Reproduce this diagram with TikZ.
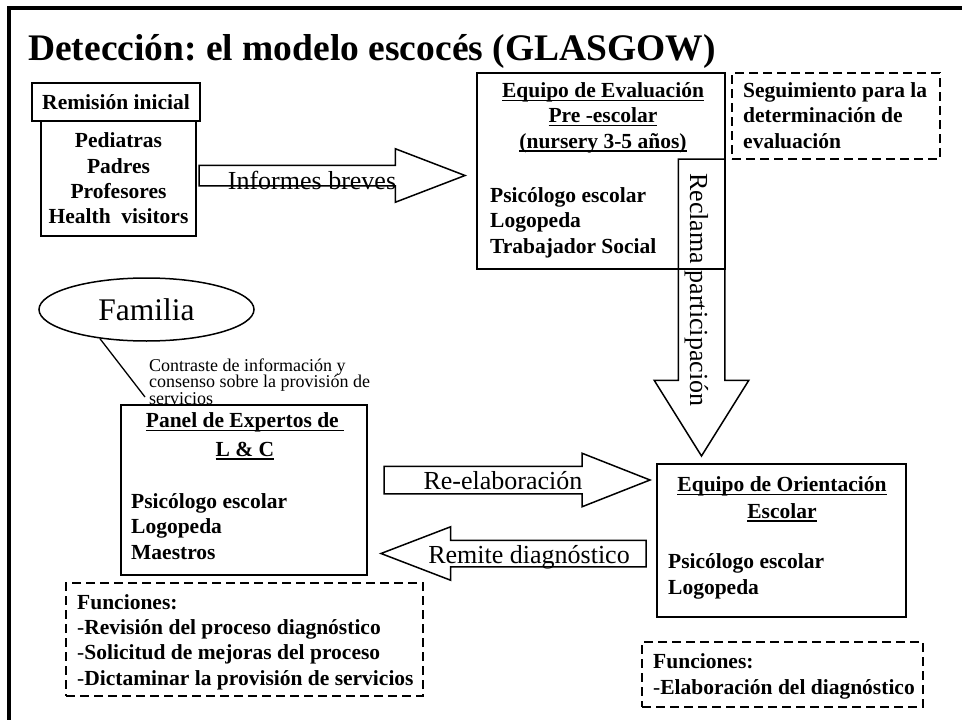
\documentclass[tikz,border=0pt]{standalone}
\usepackage{fontspec}
\setmainfont{Liberation Serif}
\usetikzlibrary{shapes, arrows, positioning}
\frenchspacing

\newcommand{\subrayar}[1]{\setbox0\hbox{#1}\rlap{\rule[-3.5pt]{\wd0}{1.3pt}}\box0}

\begin{document}
\begin{tikzpicture}[
		x=1pt, y=-1pt,
		marco/.style={draw, line width=3.5pt},
		box/.style={rectangle, draw, line width=2pt, inner sep=0pt, outer sep=0pt},
		dashbox/.style={rectangle, draw, line width=1.8pt, dash pattern=on 9pt off 5pt, inner sep=0pt, outer sep=0pt},
		titulo/.style={font=\bfseries\fontsize{37.5}{40}\selectfont, inner sep=0pt},
		negrita/.style={font=\bfseries\fontsize{21.5}{25.3}\selectfont, inner sep=0pt},
		etiqueta/.style={font=\fontsize{26}{30}\selectfont, inner sep=0pt},
		nota/.style={font=\fontsize{18}{16.5}\selectfont, inner sep=0pt},
		blockarrow/.style={single arrow, draw, line width=1.5pt, inner sep=0pt, outer sep=0pt, single arrow head indent=0pt}
	]
	\useasboundingbox (0,0) rectangle (962,720);
	% Marco y titulo
	\draw[marco] (9,8) rectangle (985,745);
	\node[titulo, anchor=base west] (titulo) at (28,60) {Detección: el modelo escocés (GLASGOW)};
	
	% Remision inicial
	\node[box, negrita, minimum width=168pt, minimum height=38pt] (remision) at (116,102) {Remisión inicial};
	\node[box, negrita, align=center, minimum width=155pt, minimum height=115pt, below=0pt of remision, xshift=2.5pt] (fuentes) {Pediatras\\Padres\\Profesores\\Health\ \ visitors};
	\node[blockarrow, text height=19pt, single arrow head extend=16.5pt, single arrow tip angle=42, minimum height=266pt, anchor=tail] (informes) at (199,175.5) {};
	\node[etiqueta, anchor=base] (informes-txt) at (312,189) {Informes breves};
	
	% Equipo de evaluacion pre-escolar
	\node[box, minimum width=248pt, minimum height=196pt, anchor=north west] (preesc) at (477,73) {};
	\node[negrita, align=center, anchor=base] (preesc-tit) at (603,148) {\subrayar{Equipo de Evaluación}\\\subrayar{Pre -escolar}\\\subrayar{(nursery 3-5 años)}};
	\node[negrita, align=left, anchor=base west] (preesc-lista) at (490,253) {Psicólogo escolar\\Logopeda\\Trabajador Social};
	\node[dashbox, minimum width=208pt, minimum height=86pt, below right=0pt and 7pt of preesc.north east] (seguimiento) {};
	\node[negrita, align=left, anchor=base west] (seguimiento-txt) at (743,148) {Seguimiento para la\\determinación de\\evaluación};
	\node[blockarrow, rotate=-90, text height=45pt, single arrow head extend=24pt, single arrow tip angle=64, minimum height=297pt, anchor=tail] (reclama) at (701.5,159) {};
	\node[etiqueta, rotate=-90, anchor=base west] (reclama-txt) at (690,173) {Reclama participación};
	
	% Familia
	\node[ellipse, draw, line width=1.5pt, minimum width=215pt, minimum height=63pt, font=\fontsize{31.5}{34}\selectfont] (familia) at (146.5,309.5) {Familia};
	\node[nota, align=left, anchor=base west] (contraste) at (149,404) {Contraste de información y\\consenso sobre la provisión de\\servicios};
	\coordinate (enlace) at (145,397);
	\draw[line width=1.3pt] (familia.212) -- (enlace);
	
	% Panel de expertos
	\node[box, minimum width=246pt, minimum height=170pt, anchor=north west] (panel) at (121,405) {};
	\node[negrita, align=center, anchor=base] (panel-tit) at (245,456) {\subrayar{Panel de Expertos de\ }\\[3pt]\subrayar{L \& C}};
	\node[negrita, align=left, anchor=base west] (panel-lista) at (131,559) {Psicólogo escolar\\Logopeda\\Maestros};
	\node[dashbox, minimum width=357pt, minimum height=113pt, anchor=north west] (funcpanel) at (66,583) {};
	\node[negrita, align=left, anchor=base west] (funcpanel-txt) at (77,685) {Funciones:\\{\mdseries-}Revisión del proceso diagnóstico\\{\mdseries-}Solicitud de mejoras del proceso\\{\mdseries-}Dictaminar la provisión de servicios};
	
	% Flechas entre equipos
	\node[blockarrow, text height=26pt, single arrow head extend=13pt, single arrow tip angle=43, minimum height=266pt, anchor=tail] (reelab) at (384,480) {};
	\node[etiqueta, anchor=base] (reelab-txt) at (503,489) {Re-elaboración};
	\node[blockarrow, shape border rotate=180, text height=25pt, single arrow head extend=13.5pt, single arrow tip angle=42, minimum height=265pt, anchor=tail] (remite) at (646,553.5) {};
	\node[etiqueta, anchor=base] (remite-txt) at (529,563) {Remite diagnóstico};
	
	% Equipo de orientacion escolar
	\node[box, minimum width=249pt, minimum height=153pt, anchor=north west] (orient) at (657,464) {};
	\node[negrita, align=center, anchor=base] (orient-tit) at (782,518) {\subrayar{Equipo de Orientación}\\[1pt]\subrayar{Escolar}};
	\node[negrita, align=left, anchor=base west] (orient-lista) at (668,594) {Psicólogo escolar\\[0.5pt]Logopeda};
	\node[dashbox, minimum width=281pt, minimum height=65pt, anchor=north west] (funcorient) at (642,642) {};
	\node[negrita, align=left, anchor=base west] (funcorient-txt) at (653,694) {Funciones:\\{\mdseries-}Elaboración del diagnóstico};
\end{tikzpicture}
\end{document}
